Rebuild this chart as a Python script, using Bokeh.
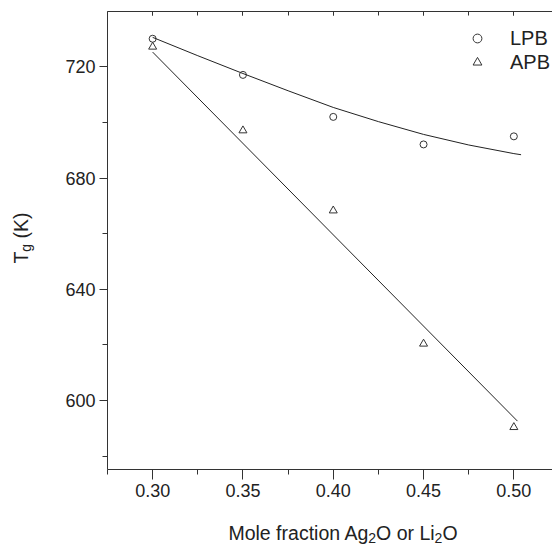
from bokeh.plotting import figure
from bokeh.layouts import row, column
from bokeh.models import (Range1d, LinearAxis, SingleIntervalTicker, NumeralTickFormatter,
                          Legend, LegendItem, CustomJSTickFormatter, Div)
from bokeh.embed import file_html
from bokeh.resources import INLINE

# ---- data ----
x_frac = [0.30, 0.35, 0.40, 0.45, 0.50]
lpb_tg = [730.1, 717.1, 702.0, 692.1, 695.0]
apb_tg = [727.2, 697.1, 668.3, 620.4, 590.4]

lpb_fit_x = [0.30, 0.325, 0.35, 0.375, 0.40, 0.425, 0.45, 0.475, 0.50, 0.504]
lpb_fit_y = [730.6, 724.0, 717.6, 711.4, 705.4, 700.3, 695.7, 691.9, 688.8, 688.4]

apb_fit_x = [0.30, 0.502]
apb_fit_y = [725.3, 592.6]

series_names = ["LPB", "APB"]
SUB = "<sub style='font-size:14px; vertical-align:-3px; line-height:1'>{}</sub>"
x_label_html = "Mole fraction Ag" + SUB.format("2") + "O or Li" + SUB.format("2") + "O"
y_label_html = "T" + SUB.format("g") + " (K)"

FONT = "Liberation Sans"
INK = "#333333"
TXT = "#222222"

LABEL_W = 40
FIG_H = 505
XLAB_H = 547 - FIG_H

p = figure(width=552 - LABEL_W, height=FIG_H,
           x_range=Range1d(0.275, 0.5214), y_range=Range1d(575.2, 739.9),
           output_backend="svg", toolbar_location=None,
           min_border_left=107 - LABEL_W, min_border_right=0,
           min_border_top=11, min_border_bottom=FIG_H - 469)
p.outline_line_color = None
p.grid.visible = False
p.background_fill_color = "white"

# axes
p.xaxis.ticker = SingleIntervalTicker(interval=0.05, num_minor_ticks=2)
p.yaxis.ticker = SingleIntervalTicker(interval=40, num_minor_ticks=2)
p.xaxis.formatter = NumeralTickFormatter(format="0.00")
p.yaxis.formatter = NumeralTickFormatter(format="0")
for ax in (p.xaxis[0], p.yaxis[0]):
    ax.axis_line_color = INK
    ax.major_tick_line_color = INK
    ax.minor_tick_line_color = INK
    ax.major_label_text_font = FONT
    ax.major_label_text_font_size = "18px"
    ax.major_label_text_color = TXT
    ax.major_tick_in = 0
    ax.minor_tick_in = 0
    ax.major_label_standoff = 4
p.xaxis.major_tick_out = 10
p.xaxis.minor_tick_out = 5
p.yaxis.major_tick_out = 8
p.yaxis.minor_tick_out = 5

top = LinearAxis(ticker=SingleIntervalTicker(interval=0.05, num_minor_ticks=2),
                 formatter=CustomJSTickFormatter(code="return ''"),
                 major_tick_in=4, major_tick_out=0, minor_tick_in=4, minor_tick_out=0,
                 major_label_text_font_size="0px", major_label_standoff=0,
                 axis_line_color=INK, major_tick_line_color=INK, minor_tick_line_color=INK)
p.add_layout(top, "above")

# fit lines
p.line(lpb_fit_x, lpb_fit_y, line_color="#222222", line_width=1)
p.line(apb_fit_x, apb_fit_y, line_color="#222222", line_width=1)

# data points
r1 = p.scatter(x_frac, lpb_tg, marker="circle", size=7, fill_color=None,
               line_color=INK, line_width=1)
r2 = p.scatter(x_frac, apb_tg, marker="triangle", size=8, fill_color=None,
               line_color=INK, line_width=1)

legend = Legend(items=[LegendItem(label=series_names[0], renderers=[r1]),
                       LegendItem(label=series_names[1], renderers=[r2])],
                location=(359, 395), orientation="vertical",
                label_text_font=FONT, label_text_font_size="20px", label_text_color=TXT,
                glyph_width=22, glyph_height=24, label_height=24, label_standoff=22,
                spacing=0, padding=0, margin=0,
                background_fill_alpha=0, border_line_color=None)
p.add_layout(legend)

TEXT_CSS = ("white-space:nowrap; font-family:'Liberation Sans'; font-size:19.5px; "
            "color:#222222; line-height:1.1;")

# y-axis label (T with subscript g) as rotated HTML text
ylab = Div(text=("<div style=\"position:absolute; left:22px; top:238px; "
                 "transform:translate(-50%,-50%) rotate(-90deg); " + TEXT_CSS + "\">"
                 + y_label_html + "</div>"),
           width=LABEL_W, height=FIG_H, margin=0,
           styles={"position": "relative", "overflow": "visible"})

# x-axis label with subscripts
xlab = Div(text=("<div style=\"position:absolute; left:343px; top:18px; "
                 "transform:translateX(-50%); " + TEXT_CSS + "\">"
                 + x_label_html + "</div>"),
           width=552, height=XLAB_H, margin=0,
           styles={"position": "relative", "overflow": "visible"})

layout = column(row(ylab, p, spacing=0), xlab, spacing=0)
open("out.html", "w").write(file_html(layout, INLINE))
